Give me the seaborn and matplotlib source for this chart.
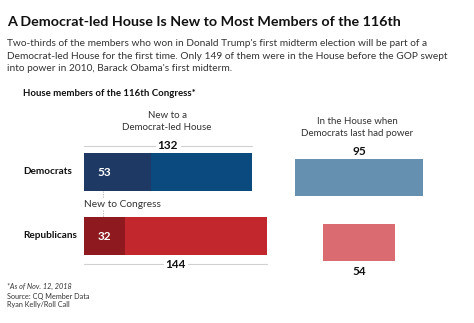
import matplotlib
matplotlib.use("Agg")
import matplotlib.pyplot as plt
import seaborn as sns
import pandas as pd
import numpy as np

parties = ["Democrats", "Republicans"]
new_to_dem_house = [132, 144]
new_to_congress = [53, 32]
in_house_last_dem = [95, 54]

main_colors = ["#0b4a7e", "#c1272d"]
dark_colors = ["#1e3a64", "#8e1a20"]
right_colors = ["#6590b0", "#d96b71"]

sns.set_theme(style="white")
plt.rcParams['font.family'] = ['Lato', 'DejaVu Sans']

W, H = 474, 323
fig = plt.figure(figsize=(W / 100, H / 100), dpi=100)
fig.patch.set_facecolor("white")

def ax_px(x0, x1, y0, y1):
    return fig.add_axes([x0 / W, 1 - y1 / H, (x1 - x0) / W, (y1 - y0) / H])

def ftext(x, y, s, **kw):
    fig.text(x / W, 1 - y / H, s, **kw)

df = pd.DataFrame({"party": parties, "total": new_to_dem_house,
                   "newc": new_to_congress, "last": in_house_last_dem})

# Left panel
axL = ax_px(84, 284, 140, 270)
sns.barplot(data=df, x="total", y="party", hue="party", palette=main_colors,
            width=0.59, ax=axL, legend=False, saturation=1, linewidth=0)
sns.barplot(data=df, x="newc", y="party", hue="party", palette=dark_colors,
            width=0.59, ax=axL, legend=False, saturation=1, linewidth=0)
axL.set_xlim(0, 200 / 1.27)
axL.set_ylim(1.53, -0.5)
axL.axis("off")

for i, v in enumerate(new_to_congress):
    axL.text(16, i, str(v), color="white", fontsize=8.5,
             fontweight="bold", ha="center", va="center")

# total brackets
for i, v in enumerate(new_to_dem_house):
    yy = -0.41 if i == 0 else 1.44
    gap = 10
    axL.plot([0, v / 2 - gap], [yy, yy], color="#d0d0d0", lw=0.8, clip_on=False)
    axL.plot([v / 2 + gap, v], [yy, yy], color="#d0d0d0", lw=0.8, clip_on=False)
    axL.text(v / 2, yy, str(v), fontsize=8.5, fontweight="bold", ha="center",
             va="center", color="#111111")

# dashed connector
axL.plot([15, 15], [0.295, 0.41], color="#aaaaaa", lw=0.6, ls=(0, (1.5, 1.5)), clip_on=False)
axL.plot([15, 15], [0.6, 0.705], color="#aaaaaa", lw=0.6, ls=(0, (1.5, 1.5)), clip_on=False)
axL.text(0, 0.5, "New to Congress", fontsize=7.3, ha="left", va="center", color="#333333")

# Right panel
axR = ax_px(259, 459, 146, 276)
for i, v in enumerate(in_house_last_dem):
    axR.barh(i, v, left=-v / 2, height=0.57, color=right_colors[i], linewidth=0)
axR.set_xlim(-100 / 1.34, 100 / 1.34)
axR.set_ylim(1.51, -0.49)
axR.axis("off")
axR.text(0, -0.405, str(in_house_last_dem[0]), fontsize=8.5, fontweight="bold",
         ha="center", va="center", color="#111111")
axR.text(0, 1.445, str(in_house_last_dem[1]), fontsize=8.5, fontweight="bold",
         ha="center", va="center", color="#111111")

# Category labels
ftext(23, 172, "Democrats", fontsize=7.2, fontweight="bold", va="center", color="#111111")
ftext(23, 236, "Republicans", fontsize=7.2, fontweight="bold", va="center", color="#111111")

# Column headers
ftext(167, 116, "New to a", fontsize=7.0, ha="center", va="center", color="#333333")
ftext(167, 127, "Democrat-led House", fontsize=7.0, ha="center", va="center", color="#333333")
ftext(357, 122, "In the House when", fontsize=7.0, ha="center", va="center", color="#333333")
ftext(357, 134, "Democrats last had power", fontsize=7.0, ha="center", va="center", color="#333333")

# Title and subtitle
ftext(7, 22, "A Democrat-led House Is New to Most Members of the 116th",
      fontsize=10.3, fontweight="bold", va="center", color="#111111")
subtitle = ["Two-thirds of the members who won in Donald Trump's first midterm election will be part of a",
            "Democrat-led House for the first time. Only 149 of them were in the House before the GOP swept",
            "into power in 2010, Barack Obama's first midterm."]
for k, line in enumerate(subtitle):
    ftext(7, 44 + 12.3 * k, line, fontsize=7.25, va="center", color="#333333")

ftext(23, 93, "House members of the 116th Congress*", fontsize=6.9, fontweight="bold",
      va="center", color="#111111")

# Footer
ftext(7, 286, "*As of Nov. 12, 2018", fontsize=5.2, style="italic", va="center", color="#333333")
ftext(7, 296, "Source: CQ Member Data", fontsize=5.2, va="center", color="#333333")
ftext(7, 305, "Ryan Kelly/Roll Call", fontsize=5.2, va="center", color="#333333")

fig.savefig("out.png", dpi=100, facecolor="white")
